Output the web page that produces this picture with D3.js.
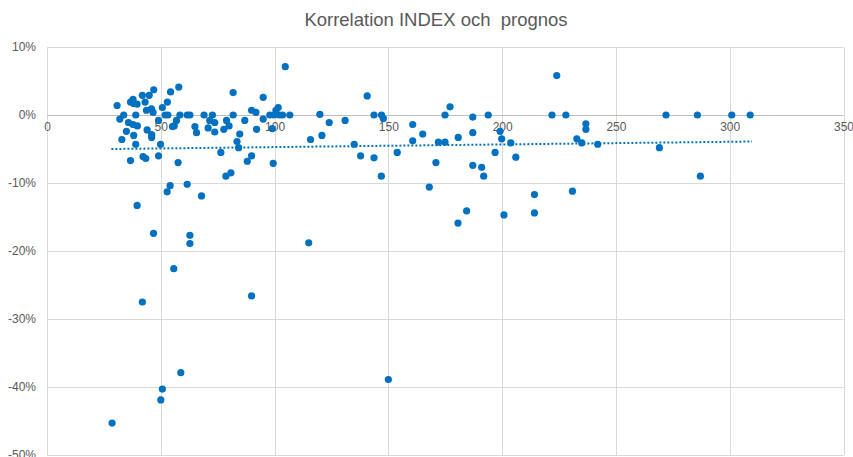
<!DOCTYPE html>
<html>
<head>
<meta charset="utf-8">
<script src="https://cdn.jsdelivr.net/npm/d3@7"></script>
<style>
  body { margin: 0; background: #fff; }
  svg text { font-family: "Liberation Sans", Arial, sans-serif; fill: #595959; }
</style>
</head>
<body>
<div class="chart"></div>
<script>
// Korrelation INDEX och prognos - scatter

// data (x = index, y = prognos in %)
var xValues = [
  30.8, 32, 33.7, 32.9, 34.9, 35.8, 36.7, 37.8, 38.1, 37.8, 39.0, 39.7, 38.1, 39.0, 39.6,
  41.9, 43.1, 43.7, 44.0, 44.9, 45.9, 46.6, 46.9, 46.0, 46.0, 42.2, 43.4, 49.0, 49.9, 49.0,
  50.7, 51.9, 52.9, 53.1, 54.3, 55.1, 55.9, 56.9, 57.9, 58.4, 61.6, 62.8, 65.0, 65.7, 69.0,
  70.8, 72.7, 71.5, 73.7, 73.7, 76.4, 77.7, 78.9, 80.0, 81.8, 81.8, 83.5, 84.2, 84.7, 86.9,
  89.9, 88.0, 89.9, 91.8, 92.1, 95.0, 95.0, 97.9, 99.7, 99.0, 100.6, 101.6, 102.0, 103.5, 106.7,
  104.7, 99.4, 36.7, 57.6, 78.6, 80.8, 54.1, 52.8, 61.6, 67.9, 39.6, 46.8, 62.8, 62.8, 55.7,
  41.9, 89.9, 58.8, 50.7, 50.0, 28.6, 150, 115.8, 119.9, 120.8, 124, 131, 135, 137.8, 140.7,
  143.7, 143.7, 147, 147.8, 146.9, 153.9, 160.7, 160.7, 165.1, 168, 170.9, 172, 174.9, 174.9, 177.1,
  180.7, 180.6, 184.4, 187.1, 187.1, 187.1, 191, 191.9, 193.9, 196.9, 199.1, 199.8, 200.8, 203.8, 206,
  214.2, 214.2, 221.9, 224, 228, 230.9, 232.8, 235, 236.8, 236.8, 242, 269.1, 272, 285.8, 287.1,
  300.9, 309, 115
];
var yValues = [
  1.4, -0.6, 0, -3.6, -2.4, -1.1, 1.9, 2.3, 1.7, -1.4, 0, -1.6, -3.0, -4.3, 1.6,
  2.9, 1.9, 0.7, -2.2, 2.9, 0.9, 0.4, 3.7, -2.9, -3.3, -6.1, -6.4, -0.8, -4.3, -6.0,
  1.1, 0, 1.9, 0, 3.4, -1.7, -1.6, -0.8, 4.1, 0, 0, 0, -1.7, -2.6, 0,
  -1.9, 0, -0.8, -1.1, -2.5, -5.5, -2.1, -0.8, -1.6, 3.3, 0, -3.9, -4.8, -2.8, -0.8,
  -6.0, -6.8, 0.7, 0.4, -2.1, 2.6, -0.6, 0, 0, -2.0, 0.7, 1.1, 0, 0, 0,
  7.1, -7.1, -6.7, -7.0, -9.0, -8.5, -10.4, -11.3, -10.2, -11.9, -13.3, -17.4, -17.7, -18.9, -22.6,
  -27.5, -26.6, -37.9, -40.3, -41.9, -45.3, -38.9, -3.6, 0.1, -3.0, -1.1, -0.8, -4.3, -6.0, 2.8,
  0, -6.3, 0, -0.5, -9.0, -5.5, -1.4, -3.8, -2.8, -10.6, -7.0, -4.0, -4.0, 0, 1.2,
  -3.3, -15.9, -14.1, -0.3, -2.6, -7.4, -7.7, -9.0, 0, -5.5, -2.4, -3.5, -14.7, -4.1, -6.2,
  -11.7, -14.4, 0, 5.8, 0, -11.2, -3.5, -4.1, -1.3, -2.1, -4.3, -4.8, 0, 0, -9.0,
  0, 0, -18.8
];

// linear trendline endpoints (as drawn by the spreadsheet)
var trendX = [28.3, 309.8];
var trendY = [-5.0, -3.9];

var xTicks = [0, 50, 100, 150, 200, 250, 300, 350];
var yTicks = [10, 0, -10, -20, -30, -40, -50];

var title = "Korrelation INDEX och\u00a0 prognos";

var svgWidth = 853;
var svgHeight = 457;

var margin = { top: 47, right: 10, bottom: 2, left: 47 };
var chartWidth = 843.5 - margin.left;
var chartHeight = 455 - margin.top;

var svg = d3.select(".chart")
  .append("svg")
  .attr("width", svgWidth)
  .attr("height", svgHeight);

var chartGroup = svg.append("g")
  .attr("transform", `translate(${margin.left}, ${margin.top})`);

var xScale = d3.scaleLinear().domain([0, 350]).range([0, chartWidth]);
var yScale = d3.scaleLinear().domain([-50, 10]).range([chartHeight, 0]);

// gridlines
chartGroup.append("g")
  .selectAll("line.v")
  .data(xTicks)
  .enter()
  .append("line")
  .attr("x1", d => Math.round(xScale(d)) + 0.5)
  .attr("x2", d => Math.round(xScale(d)) + 0.5)
  .attr("y1", 0)
  .attr("y2", chartHeight)
  .attr("stroke", "#d9d9d9")
  .attr("stroke-width", 1);

chartGroup.append("g")
  .selectAll("line.h")
  .data(yTicks)
  .enter()
  .append("line")
  .attr("x1", 0)
  .attr("x2", chartWidth)
  .attr("y1", d => Math.round(yScale(d)) + 0.5)
  .attr("y2", d => Math.round(yScale(d)) + 0.5)
  .attr("stroke", d => d === 0 ? "#bfbfbf" : "#d9d9d9")
  .attr("stroke-width", 1);

// y axis labels
var leftAxis = d3.axisLeft(yScale)
  .tickValues(yTicks)
  .tickFormat(d => d + "%")
  .tickSize(0)
  .tickPadding(11);

var yAxisG = chartGroup.append("g").call(leftAxis);
yAxisG.select(".domain").remove();
yAxisG.selectAll("text")
  .style("font-size", "12px")
  .style("fill", "#595959");

// x axis labels sit on the 0% line
var bottomAxis = d3.axisBottom(xScale)
  .tickValues(xTicks)
  .tickSize(0)
  .tickPadding(7);

var xAxisG = chartGroup.append("g")
  .attr("transform", `translate(0, ${yScale(0)})`)
  .call(bottomAxis);
xAxisG.select(".domain").remove();
xAxisG.selectAll("text")
  .style("font-size", "12px")
  .style("fill", "#595959");

// points
var points = xValues.map((x, i) => ({ x: x, y: yValues[i] }));

chartGroup.append("g")
  .selectAll("circle")
  .data(points)
  .enter()
  .append("circle")
  .attr("cx", d => xScale(d.x))
  .attr("cy", d => yScale(d.y))
  .attr("r", 3.6)
  .attr("fill", "#0070c0");

// trendline
chartGroup.append("line")
  .attr("x1", xScale(trendX[0]))
  .attr("y1", yScale(trendY[0]))
  .attr("x2", xScale(trendX[1]))
  .attr("y2", yScale(trendY[1]))
  .attr("stroke", "#0070c0")
  .attr("stroke-width", 2)
  .attr("stroke-dasharray", "2,2");

// title
svg.append("text")
  .attr("x", 436)
  .attr("y", 26)
  .attr("text-anchor", "middle")
  .style("font-size", "18.5px")
  .style("fill", "#595959")
  .text(title);
</script>
</body>
</html>
